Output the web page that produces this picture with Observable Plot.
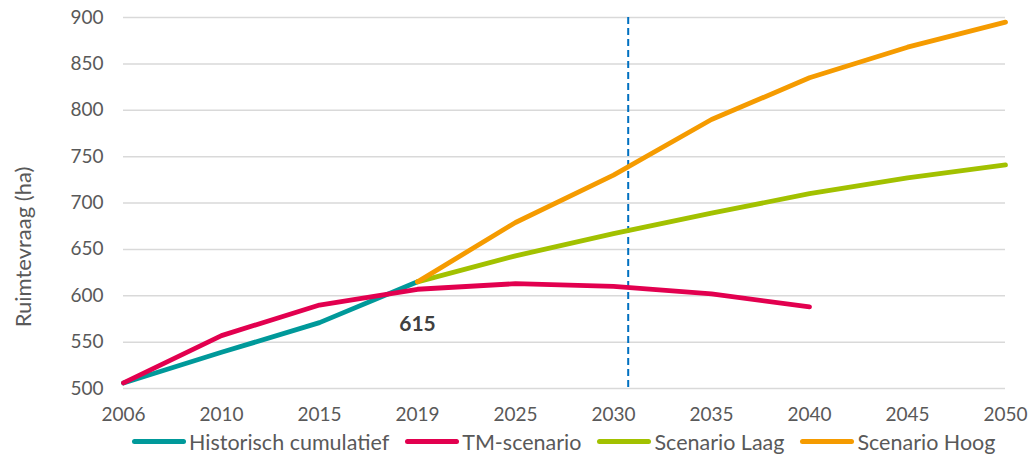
<!DOCTYPE html>
<html>
<head>
<meta charset="utf-8">
<script src="https://cdn.jsdelivr.net/npm/d3@7"></script>
<script src="https://cdn.jsdelivr.net/npm/@observablehq/plot@0.6"></script>
<style>
  html, body { margin: 0; padding: 0; background: #fff; }
  #chart { width: 1032px; height: 455px; position: relative; font-family: Lato, "Open Sans", sans-serif; }
  .legend { display: flex; align-items: center; height: 27px; margin-left: 132px; font-size: 21.5px; color: #595959; white-space: nowrap; }
  .legend .item { display: flex; align-items: center; margin-right: 16px; }
  .legend .sw { display: inline-block; width: 54px; height: 5px; border-radius: 3px; margin-right: 3px; }
</style>
</head>
<body>
<div id="chart"></div>
<script>
// ---- data ----
const years = ["2006", "2010", "2015", "2019", "2025", "2030", "2035", "2040", "2045", "2050"];
const seriesNames = ["Historisch cumulatief", "TM-scenario", "Scenario Laag", "Scenario Hoog"];
const seriesColors = ["#00999a", "#e2004f", "#a2c100", "#f59b00"];
const historisch = [506, 539, 571, 615];                     // 2006..2019
const tmScenario = [506, 557, 590, 607, 613, 610, 602, 588]; // 2006..2040
const scenarioLaag = [615, 643, 667, 689, 710, 727, 741];    // 2019..2050
const scenarioHoog = [615, 679, 730, 790, 835, 868, 895];    // 2019..2050
const yTicks = [500, 550, 600, 650, 700, 750, 800, 850, 900];
const markerPosition = [5.15]; // dashed reference line, on the category index axis
const valueLabels = [{year: "2019", value: 615, text: "615"}];
const yTitle = "Ruimtevraag (ha)";

// ---- build table ----
const rows = [];
historisch.forEach((v, k) => rows.push({series: seriesNames[0], i: k, value: v}));
tmScenario.forEach((v, k) => rows.push({series: seriesNames[1], i: k, value: v}));
scenarioLaag.forEach((v, k) => rows.push({series: seriesNames[2], i: k + 3, value: v}));
scenarioHoog.forEach((v, k) => rows.push({series: seriesNames[3], i: k + 3, value: v}));
const labelRows = valueLabels.map(d => ({i: years.indexOf(d.year), value: d.value, text: d.text}));

const plot = Plot.plot({
  width: 1032,
  height: 428,
  marginLeft: 123,
  marginRight: 27,
  marginTop: 17,
  marginBottom: 40,
  style: {fontFamily: "Lato, 'Open Sans', sans-serif", fontSize: "19px", color: "#595959", background: "white"},
  x: {type: "linear", domain: [0, years.length - 1], label: null},
  y: {domain: [500, 900], label: null},
  color: {domain: seriesNames, range: seriesColors},
  marks: [
    Plot.gridY(yTicks, {stroke: "#d9d9d9", strokeOpacity: 1, strokeWidth: 1.5}),
    Plot.axisX({ticks: d3.range(years.length), tickFormat: i => years[i], tickSize: 0, tickPadding: 19, label: null, fontSize: 19}),
    Plot.axisY({ticks: yTicks, tickSize: 0, tickPadding: 20, label: null, fontSize: 19}),
    Plot.ruleX(markerPosition, {stroke: "#0070c0", strokeWidth: 2, strokeDasharray: "7,4"}),
    Plot.line(rows, {x: "i", y: "value", z: "series", stroke: "series", strokeWidth: 4.8, strokeLinecap: "round", strokeLinejoin: "round"}),
    Plot.text(labelRows, {x: "i", y: "value", text: "text", dy: 42, fontWeight: "bold", fontSize: 21, fill: "#404040"})
  ]
});

const svg = d3.select(plot);
svg.append("text")
  .attr("transform", "translate(22,247) rotate(-90)")
  .attr("text-anchor", "middle")
  .attr("dominant-baseline", "central")
  .attr("fill", "#595959")
  .style("font-size", "22px")
  .text(yTitle);

const chart = document.getElementById("chart");
chart.appendChild(plot);

const legend = document.createElement("div");
legend.className = "legend";
seriesNames.forEach((name, k) => {
  const item = document.createElement("div");
  item.className = "item";
  const sw = document.createElement("span");
  sw.className = "sw";
  sw.style.background = seriesColors[k];
  const lab = document.createElement("span");
  lab.textContent = name;
  item.appendChild(sw);
  item.appendChild(lab);
  legend.appendChild(item);
});
chart.appendChild(legend);
</script>
</body>
</html>
